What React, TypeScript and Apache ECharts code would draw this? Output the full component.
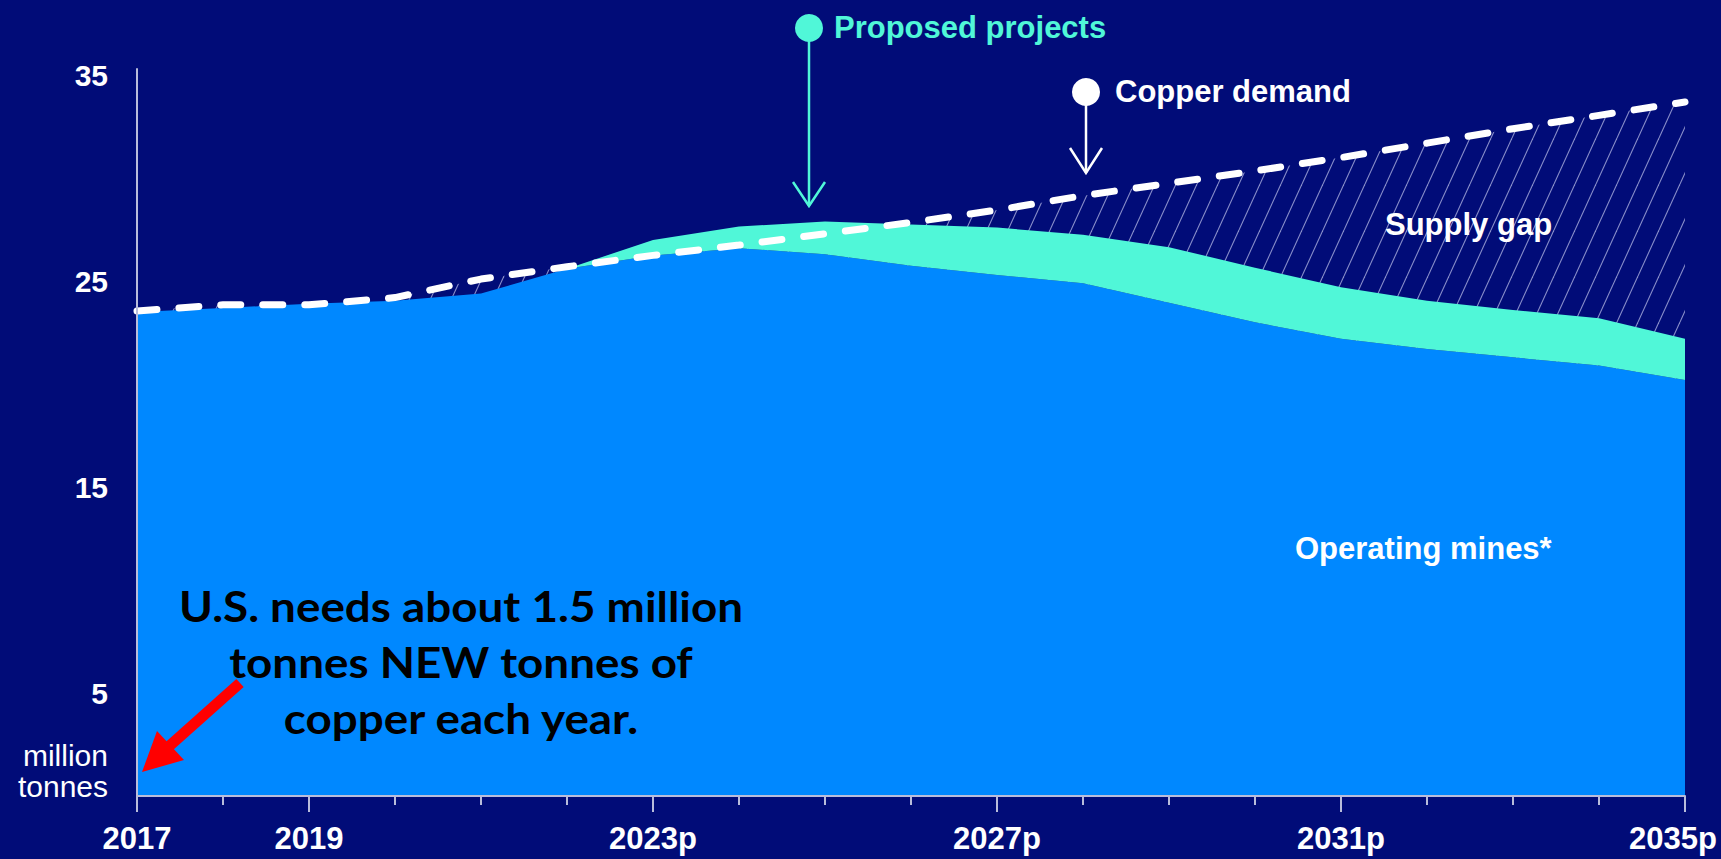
import React, { useEffect, useRef } from 'react';
import * as echarts from 'echarts';

// Copper supply vs demand, million tonnes per year
const years = [
  '2017', '2018', '2019', '2020', '2021', '2022', '2023p', '2024p', '2025p', '2026p',
  '2027p', '2028p', '2029p', '2030p', '2031p', '2032p', '2033p', '2034p', '2035p',
];
const operatingMines = [
  23.5, 23.7, 23.9, 24.05, 24.4, 25.6, 26.25, 26.6, 26.3, 25.75,
  25.3, 24.9, 23.95, 23.0, 22.2, 21.7, 21.3, 20.9, 20.2,
];
const proposedProjects = [
  0, 0, 0, 0, 0, 0, 0.75, 1.05, 1.6, 2.0,
  2.3, 2.35, 2.7, 2.65, 2.5, 2.35, 2.3, 2.3, 2.0,
];
const copperDemand = [
  23.55, 23.85, 23.85, 24.2, 25.1, 25.7, 26.25, 26.75, 27.3, 27.85,
  28.45, 29.15, 29.75, 30.35, 31.0, 31.7, 32.4, 33.05, 33.7,
];
const labelledYears = ['2017', '2019', '2023p', '2027p', '2031p', '2035p'];
const majorTickYears = ['2017', '2019', '2023p', '2027p', '2031p', '2035p'];
const yTickLabels = [5, 15, 25, 35];

const BG = '#010c78';
const BLUE = '#0088ff';
const TEAL = '#50f7d8';
const AXIS = '#b9bddb';
const FONT = '"Liberation Sans", Arial, sans-serif';

// Diagonal hatch tile used for the supply gap
function makeHatch(): HTMLCanvasElement {
  const w = 21;
  const h = 46;
  const c = document.createElement('canvas');
  c.width = w;
  c.height = h;
  const ctx = c.getContext('2d');
  if (ctx) {
    ctx.strokeStyle = 'rgba(196,200,238,0.7)';
    ctx.lineWidth = 1.1;
    for (const dx of [-w, 0, w]) {
      ctx.beginPath();
      ctx.moveTo(dx, h);
      ctx.lineTo(dx + w, 0);
      ctx.stroke();
    }
  }
  return c;
}

export default function App() {
  const ref = useRef<HTMLDivElement>(null);

  useEffect(() => {
    if (!ref.current) return;
    const chart = echarts.init(ref.current, undefined, { renderer: 'svg' });
    const hatch = makeHatch();

    const xLabelStyle = { color: '#ffffff', fontSize: 31, fontWeight: 'bold', fontFamily: FONT };
    const yLabelStyle = { color: '#ffffff', fontSize: 30, fontWeight: 'bold', fontFamily: FONT };

    const option: any = {
      animation: false,
      backgroundColor: BG,
      textStyle: { fontFamily: FONT },
      grid: { left: 137, right: 36, top: 69, bottom: 63 },
      xAxis: [
        {
          type: 'category',
          data: years,
          boundaryGap: false,
          z: 5,
          axisLine: { lineStyle: { color: AXIS, width: 2 } },
          axisTick: { show: true, interval: 0, length: 9, lineStyle: { color: AXIS, width: 2 } },
          axisLabel: {
            ...xLabelStyle,
            interval: (_i: number, v: string) => labelledYears.includes(v),
            margin: 27,
            formatter: (v: string) => (v === years[years.length - 1] ? `{last|${v}}` : v),
            rich: { last: { ...xLabelStyle, padding: [0, 24, 0, 0] } },
          },
          splitLine: { show: false },
        },
        {
          type: 'category',
          data: years,
          boundaryGap: false,
          position: 'bottom',
          z: 5,
          axisLine: { show: false },
          axisTick: {
            show: true,
            length: 16,
            interval: (_i: number, v: string) => majorTickYears.includes(v),
            lineStyle: { color: AXIS, width: 2 },
          },
          axisLabel: { show: false },
          splitLine: { show: false },
        },
      ],
      yAxis: {
        type: 'value',
        min: 0,
        max: 35.3,
        interval: 5,
        z: 5,
        axisLine: { show: true, lineStyle: { color: AXIS, width: 2 } },
        axisTick: { show: false },
        splitLine: { show: false },
        axisLabel: {
          ...yLabelStyle,
          margin: 29,
          formatter: (v: number) => (yTickLabels.includes(v) ? String(v) : ''),
        },
      },
      series: [
        {
          name: 'Supply gap',
          type: 'line',
          data: copperDemand,
          symbol: 'none',
          silent: true,
          z: 1,
          lineStyle: { width: 0, opacity: 0 },
          areaStyle: {
            color: { image: hatch, repeat: 'repeat', imageWidth: 21, imageHeight: 46 },
            opacity: 1,
          },
        },
        {
          name: 'Operating mines*',
          type: 'line',
          stack: 'supply',
          data: operatingMines,
          symbol: 'none',
          z: 2,
          lineStyle: { width: 0, opacity: 0 },
          areaStyle: { color: BLUE, opacity: 1 },
        },
        {
          name: 'Proposed projects',
          type: 'line',
          stack: 'supply',
          data: proposedProjects,
          symbol: 'none',
          z: 2,
          lineStyle: { width: 0, opacity: 0 },
          areaStyle: { color: TEAL, opacity: 1 },
        },
        {
          name: 'Copper demand',
          type: 'line',
          data: copperDemand,
          symbol: 'none',
          z: 3,
          lineStyle: { color: '#ffffff', width: 7, type: [20, 22], cap: 'round' },
        },
      ],
      graphic: [
        // Proposed projects pointer
        { type: 'line', z: 100, shape: { x1: 809, y1: 28, x2: 809, y2: 206 }, style: { stroke: TEAL, lineWidth: 2.5 } },
        { type: 'polyline', z: 100, shape: { points: [[793, 182], [809, 206], [825, 182]] }, style: { stroke: TEAL, lineWidth: 2.5, fill: 'none' } },
        { type: 'circle', z: 100, shape: { cx: 809, cy: 28, r: 14 }, style: { fill: TEAL } },
        { type: 'text', z: 100, x: 834, y: 27, style: { text: 'Proposed projects', fill: TEAL, font: `bold 31px ${FONT}`, verticalAlign: 'middle' } },
        // Copper demand pointer
        { type: 'line', z: 100, shape: { x1: 1086, y1: 92, x2: 1086, y2: 173 }, style: { stroke: '#ffffff', lineWidth: 2.5 } },
        { type: 'polyline', z: 100, shape: { points: [[1070, 148], [1086, 173], [1102, 148]] }, style: { stroke: '#ffffff', lineWidth: 2.5, fill: 'none' } },
        { type: 'circle', z: 100, shape: { cx: 1086, cy: 92, r: 14 }, style: { fill: '#ffffff' } },
        { type: 'text', z: 100, x: 1115, y: 91, style: { text: 'Copper demand', fill: '#ffffff', font: `bold 31px ${FONT}`, verticalAlign: 'middle' } },
        // Region labels
        { type: 'text', z: 100, x: 1385, y: 224, style: { text: 'Supply gap', fill: '#ffffff', font: `bold 31px ${FONT}`, verticalAlign: 'middle' } },
        { type: 'text', z: 100, x: 1295, y: 548, style: { text: 'Operating mines*', fill: '#ffffff', font: `bold 31px ${FONT}`, verticalAlign: 'middle' } },
        // Unit label
        { type: 'text', z: 100, x: 108, y: 755, style: { text: 'million', fill: '#ffffff', font: `30px ${FONT}`, align: 'right', verticalAlign: 'middle' } },
        { type: 'text', z: 100, x: 108, y: 786, style: { text: 'tonnes', fill: '#ffffff', font: `30px ${FONT}`, align: 'right', verticalAlign: 'middle' } },
        // Callout
        {
          type: 'text', z: 100, x: 461, y: 578, scaleX: 1.09,
          style: {
            text: 'U.S. needs about 1.5 million\ntonnes NEW tonnes of\ncopper each year.',
            fill: '#000000', font: 'bold 42px Lato, "Noto Sans", sans-serif',
            align: 'center', verticalAlign: 'top', lineHeight: 56,
          },
        },
        { type: 'line', z: 100, shape: { x1: 240, y1: 683, x2: 166, y2: 749 }, style: { stroke: '#ff0000', lineWidth: 11 } },
        { type: 'polygon', z: 100, shape: { points: [[142, 772], [157, 731], [184, 760]] }, style: { fill: '#ff0000' } },
      ],
    };

    chart.setOption(option);
    return () => chart.dispose();
  }, []);

  return (
    <div
      ref={ref}
      style={{ position: 'fixed', left: 0, top: 0, width: 1721, height: 859 }}
    />
  );
}
